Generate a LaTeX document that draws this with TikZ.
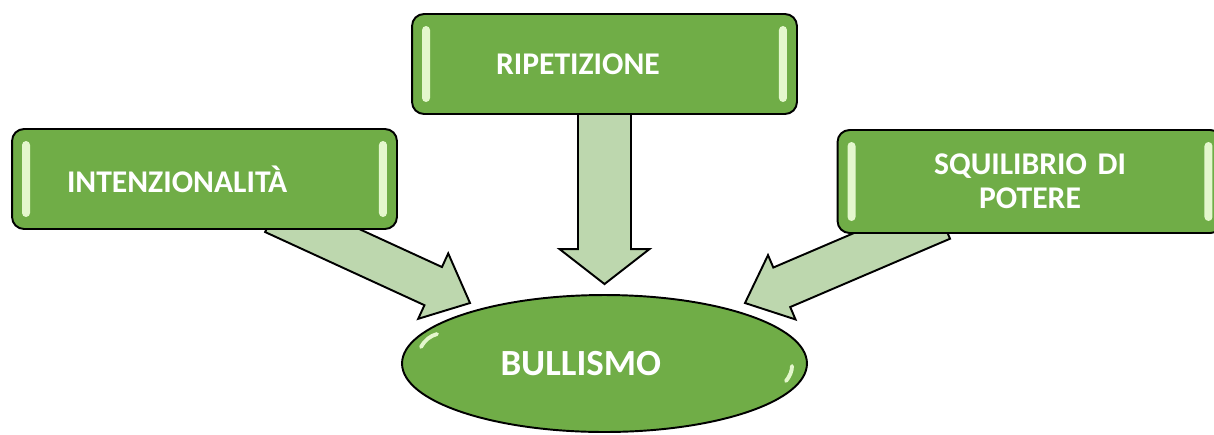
\documentclass[tikz,border=0pt]{standalone}
\usepackage{fontspec}
\setmainfont{Carlito}
\usetikzlibrary{calc,shapes.geometric,backgrounds}

\definecolor{boxgreen}{RGB}{112,173,71}
\definecolor{arrowgreen}{RGB}{189,215,174}
\definecolor{glossgreen}{RGB}{228,247,205}

\tikzset{
	box/.style={draw=black, line width=1.1pt, fill=boxgreen, rounded corners=0.24cm,
		minimum width=7.7cm, minimum height=2cm, text=white,
		font=\bfseries\fontsize{18}{19.5}\selectfont,
		path picture={
			\fill[glossgreen, rounded corners=0.08cm] ([xshift=0.2cm, yshift=-0.24cm]path picture bounding box.north west) rectangle ([xshift=0.36cm, yshift=0.24cm]path picture bounding box.south west);
			\fill[glossgreen, rounded corners=0.08cm] ([xshift=-0.2cm, yshift=-0.24cm]path picture bounding box.north east) rectangle ([xshift=-0.36cm, yshift=0.24cm]path picture bounding box.south east);
		}},
	hub/.style={ellipse, draw=black, line width=1.1pt, fill=boxgreen, inner sep=0pt,
		minimum width=8.1cm, minimum height=2.74cm, text=white,
		font=\bfseries\fontsize{21}{24}\selectfont},
	arrowbody/.style={draw=black, line width=1.1pt, fill=arrowgreen, line join=miter},
	gloss/.style={glossgreen, line width=2.2pt, line cap=round}
}

% block arrow: from, tip, half shaft, half head, head length
\newcommand{\blockarrow}[5]{%
	\coordinate (hb) at ($(#2)!#5!(#1)$);
	\draw[arrowbody] ($(#1)!#3!90:(#2)$) -- ($(hb)!#3!90:(#2)$) -- ($(hb)!#4!90:(#2)$) -- (#2)
		-- ($(hb)!#4!-90:(#2)$) -- ($(hb)!#3!-90:(#2)$) -- ($(#1)!#3!-90:(#2)$) -- cycle;}

\begin{document}
\begin{tikzpicture}[x=0.02cm, y=-0.02cm]
	\useasboundingbox (0,0) rectangle (1214,434);
	\clip (0,0) rectangle (1214,434);

	\node[box, align=left, inner xsep=1.1cm, text width=5.5cm] (intenz) at (204.5,179) {INTENZIONALITÀ};
	\node[box, align=left, inner xsep=1.68cm, text width=4.34cm] (ripet) at (604.5,64) {RIPETIZIONE};
	\node[box, align=center, text width=5cm, minimum height=2.06cm] (squil) at (1030,181.5) {SQUILIBRIO DI\\POTERE};
	\node[hub, align=left, text width=4.16cm] (bull) at (604.5,363.5) {BULLISMO};

	% glints on the ellipse
	\draw[gloss] (421,347) .. controls (425,340) and (430,336) .. (437,334);
	\draw[gloss] (786,381) .. controls (790,376) and (792,371) .. (792,366);

	\coordinate (la-s) at ($(intenz.south east)+(-124,-17)$);
	\coordinate (la-t) at ($(bull.center)+(-134.5,-60.5)$);
	\coordinate (ma-s) at ($(ripet.south)+(0,-13)$);
	\coordinate (ma-t) at ($(bull.north)+(0,-10)$);
	\coordinate (ra-s) at ($(squil.south west)+(105,-15)$);
	\coordinate (ra-t) at ($(bull.center)+(140.5,-60.5)$);

	\begin{scope}[on background layer]
		\blockarrow{la-s}{la-t}{0.42cm}{0.72cm}{0.81cm}
		\blockarrow{ma-s}{ma-t}{0.53cm}{0.9cm}{0.7cm}
		\blockarrow{ra-s}{ra-t}{0.43cm}{0.7cm}{0.8cm}
	\end{scope}
\end{tikzpicture}
\end{document}
